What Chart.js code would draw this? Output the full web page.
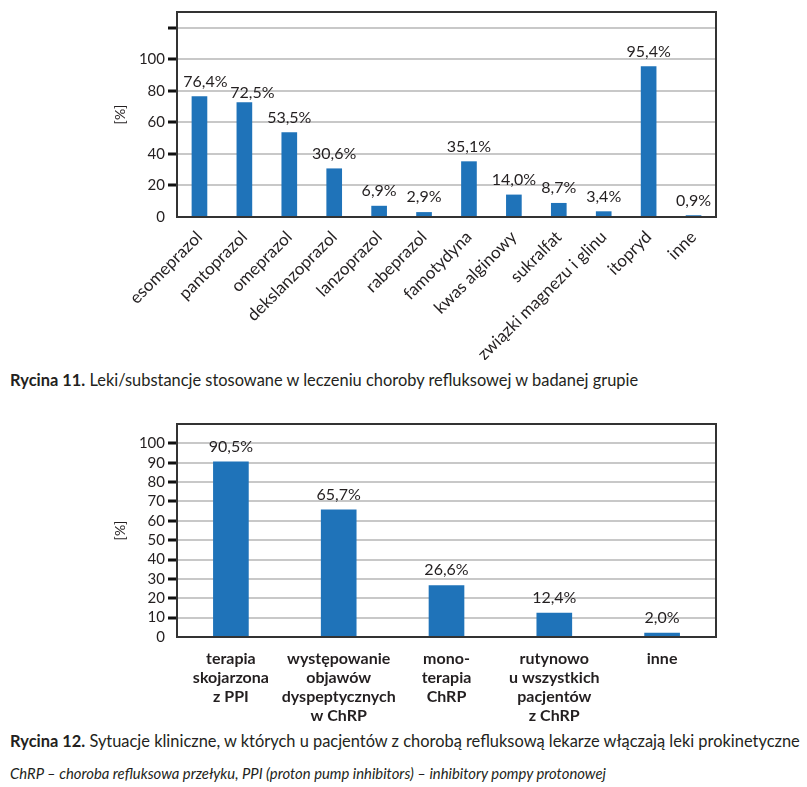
<!DOCTYPE html>
<html>
<head>
<meta charset="utf-8">
<script src="https://cdn.jsdelivr.net/npm/chart.js@4.4.1/dist/chart.umd.min.js"></script>
<style>
  body { margin: 0; background: #fff; font-family: Lato, sans-serif; color: #231f20; }
  #wrap { position: relative; width: 807px; height: 787px; }
  .box { position: absolute; left: 0; width: 807px; }
  .cap { position: absolute; left: 10px; font-size: 15px; line-height: 20px; white-space: nowrap; }
  .note { font-size: 13px; font-style: italic; }
</style>
</head>
<body>
<div id="wrap">
  <div class="box" style="top:0;height:360px"><canvas id="chartLeki"></canvas></div>
  <div class="cap" id="cap11" style="top:370px"><b>Rycina 11.</b> Leki/substancje stosowane w leczeniu choroby refluksowej w badanej grupie</div>
  <div class="box" style="top:410px;height:320px"><canvas id="chartSytuacje"></canvas></div>
  <div class="cap" id="cap12" style="top:731px"><b>Rycina 12.</b> Sytuacje kliniczne, w których u pacjentów z chorobą refluksową lekarze włączają leki prokinetyczne</div>
  <div class="cap note" id="note" style="top:763px">ChRP – choroba refluksowa przełyku, PPI (proton pump inhibitors) – inhibitory pompy protonowej</div>
</div>
<script>
const lekiLabels = ['esomeprazol', 'pantoprazol', 'omeprazol', 'dekslanzoprazol', 'lanzoprazol', 'rabeprazol',
  'famotydyna', 'kwas alginowy', 'sukralfat', 'związki magnezu i glinu', 'itopryd', 'inne'];
const lekiValues = [76.4, 72.5, 53.5, 30.6, 6.9, 2.9, 35.1, 14.0, 8.7, 3.4, 95.4, 0.9];

const sytuacjeLabels = [
  ['terapia', 'skojarzona', 'z PPI'],
  ['występowanie', 'objawów', 'dyspeptycznych', 'w ChRP'],
  ['mono-', 'terapia', 'ChRP'],
  ['rutynowo', 'u wszystkich', 'pacjentów', 'z ChRP'],
  ['inne']
];
const sytuacjeValues = [90.5, 65.7, 26.6, 12.4, 2.0];

const ink = '#231f20';
const blue = '#1f73b9';
const font = { family: 'Lato', size: 15 };

// podpisy wartości nad słupkami, kreski osi Y i ramka wokół wykresu
function etykiety(step, kreskiMax, przesun) {
  return {
    id: 'etykiety',
    afterDraw(chart) {
      const { ctx, chartArea } = chart;
      const data = chart.data.datasets[0].data;
      const sy = chart.scales.y;
      ctx.save();
      ctx.font = '16px Lato';
      ctx.fillStyle = ink;
      ctx.textAlign = 'center';
      chart.getDatasetMeta(0).data.forEach((bar, i) => {
        const d = przesun[i] || [0, 0];
        ctx.fillText(data[i].toFixed(1).replace('.', ',') + '%', bar.x + d[0], bar.y - 10 + d[1]);
      });
      ctx.fillStyle = '#111';
      for (let v = step; v <= kreskiMax; v += step) {
        const py = Math.round(sy.getPixelForValue(v));
        ctx.fillRect(chartArea.left - 9, py - 1.5, 9, 3);
      }
      ctx.strokeStyle = '#333';
      ctx.lineWidth = 2;
      ctx.strokeRect(chartArea.left, chartArea.top, chartArea.right - chartArea.left, chartArea.bottom - chartArea.top);
      ctx.restore();
    }
  };
}

function osY(max, step) {
  return {
    min: 0,
    max: max,
    ticks: {
      stepSize: step,
      includeBounds: false,
      maxTicksLimit: 20,
      autoSkip: false,
      font: font,
      color: ink,
      padding: 3,
      callback: v => v <= 100 ? v : ''
    },
    grid: { color: '#c8c8c8', lineWidth: 2, tickLength: 9, tickColor: 'rgba(0,0,0,0)' },
    border: { display: false },
    title: { display: true, text: '[%]', font: { family: 'Lato', size: 14 }, color: ink, padding: { top: 112, bottom: 0 } },
    afterFit: s => { s.width = 177; }
  };
}

new Chart(document.getElementById('chartLeki'), {
  type: 'bar',
  data: {
    labels: lekiLabels,
    datasets: [{ data: lekiValues, backgroundColor: blue, barThickness: 15 }]
  },
  options: {
    responsive: true,
    maintainAspectRatio: false,
    animation: false,
    layout: { padding: { left: 0, right: 91, top: 5, bottom: 0 } },
    plugins: { legend: { display: false }, tooltip: { enabled: false } },
    scales: {
      x: {
        grid: { display: false, drawTicks: false },
        border: { display: false },
        ticks: { font: { family: 'Lato', size: 17 }, color: ink, maxRotation: 45, minRotation: 45, autoSkip: false, padding: 10 },
        afterFit: s => { s.height = 143; }
      },
      y: osY(130, 20)
    }
  },
  plugins: [etykiety(20, 120, { 0: [6, 0], 1: [8, 5] })]
});

new Chart(document.getElementById('chartSytuacje'), {
  type: 'bar',
  data: {
    labels: sytuacjeLabels,
    datasets: [{ data: sytuacjeValues, backgroundColor: blue, barThickness: 35 }]
  },
  options: {
    responsive: true,
    maintainAspectRatio: false,
    animation: false,
    layout: { padding: { left: 0, right: 91, top: 14, bottom: 0 } },
    plugins: { legend: { display: false }, tooltip: { enabled: false } },
    scales: {
      x: {
        grid: { display: false, drawTicks: false },
        border: { display: false },
        ticks: { font: { family: 'Lato', size: 16, weight: 'bold', lineHeight: 1.19 }, color: ink, maxRotation: 0, autoSkip: false, padding: 12 },
        afterFit: s => { s.height = 93; }
      },
      y: osY(110, 10)
    }
  },
  plugins: [etykiety(10, 100, {})]
});

// dopasowanie szerokości podpisów do oryginału
function dopasuj(el, w) {
  const base = parseFloat(getComputedStyle(el).fontSize);
  const size = base * w / el.scrollWidth;
  el.style.fontSize = size.toFixed(2) + 'px';
  return size;
}
document.fonts.ready.then(() => {
  const s = dopasuj(document.getElementById('cap12'), 790);
  document.getElementById('cap11').style.fontSize = s.toFixed(2) + 'px';
  dopasuj(document.getElementById('note'), 597);
});
</script>
</body>
</html>
